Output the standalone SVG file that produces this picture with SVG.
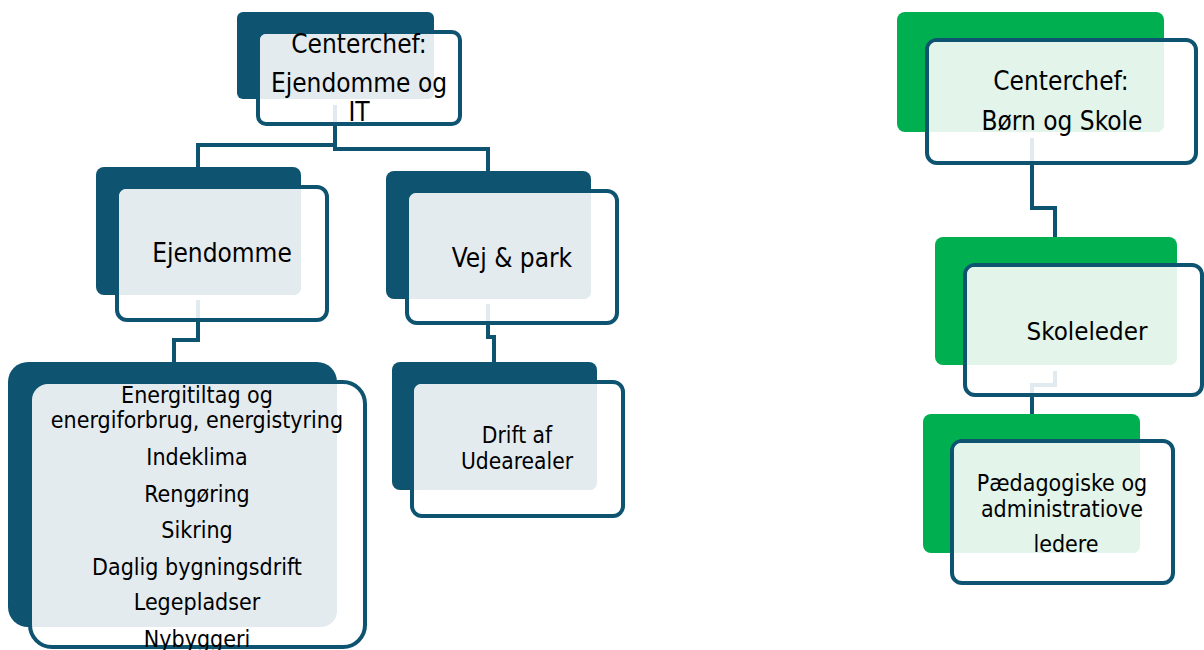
<svg xmlns="http://www.w3.org/2000/svg" width="1204" height="650" viewBox="0 0 1204 650">
<style>
.bg{fill:#fff}
.dk{fill:#0e5470}
.gr{fill:#00b050}
.ol{fill:#fff;fill-opacity:0.88;stroke:#0e5470;stroke-width:4}
.lb{fill:#e4ebef}
.lg{fill:#e3f4ea}
.cn{fill:none;stroke:#0e5470;stroke-width:4}
text{font-family:"DejaVu Sans Condensed","DejaVu Sans",sans-serif;font-stretch:condensed;fill:#000;text-anchor:middle}
.f26{font-size:26px}
.f23{font-size:23px}
.f22{font-size:22.6px}
</style>
<rect class="bg" x="0" y="0" width="1204" height="650"/>
<g id="connectors">
<path class="cn" d="M335,105 V149 H488 V171"/>
<path class="cn" d="M335,105 V145 H198 V167"/>
<path class="cn" d="M198,300 V340 H174 V362"/>
<path class="cn" d="M488,304 V337 H494 V362"/>
<path class="cn" d="M1032,138 V208 H1055 V237"/>
<path class="cn" d="M1055,371 V385 H1032 V414"/>
</g>
<g id="n-centerchef-it">
<rect class="dk" x="237" y="12" width="197" height="87" rx="6"/>
<rect class="ol" x="258" y="32" width="202" height="92" rx="8"/>
<rect class="lb" x="260" y="34" width="174" height="65" rx="6"/>
<text class="f26" x="359" y="53">Centerchef:</text>
<text class="f26" x="359" y="92">Ejendomme og</text>
<text class="f26" x="359" y="121">IT</text>
</g>
<g id="n-ejendomme">
<rect class="dk" x="96" y="167" width="205" height="128" rx="8"/>
<rect class="ol" x="117" y="187" width="210" height="133" rx="10"/>
<rect class="lb" x="119" y="189" width="182" height="106" rx="7"/>
<text class="f26" x="222" y="262">Ejendomme</text>
</g>
<g id="n-vejpark">
<rect class="dk" x="386" y="171" width="205" height="128" rx="8"/>
<rect class="ol" x="407" y="191" width="210" height="132" rx="10"/>
<rect class="lb" x="409" y="193" width="182" height="106" rx="7"/>
<text class="f26" x="512" y="267">Vej &amp; park</text>
</g>
<g id="n-energi">
<rect class="dk" x="8" y="362" width="329" height="265" rx="20"/>
<rect class="ol" x="30" y="382" width="335" height="265" rx="22"/>
<rect class="lb" x="32" y="384" width="305" height="243" rx="16"/>
<text class="f23" x="197" y="403">Energitiltag og</text>
<text class="f23" x="197" y="428">energiforbrug, energistyring</text>
<text class="f23" x="197" y="465">Indeklima</text>
<text class="f23" x="197" y="502">Rengøring</text>
<text class="f23" x="197" y="538">Sikring</text>
<text class="f23" x="197" y="575">Daglig bygningsdrift</text>
<text class="f23" x="197" y="610">Legepladser</text>
<text class="f23" x="197" y="647">Nybyggeri</text>
</g>
<g id="n-drift">
<rect class="dk" x="392" y="362" width="205" height="128" rx="8"/>
<rect class="ol" x="412" y="382" width="211" height="134" rx="10"/>
<rect class="lb" x="414" y="384" width="183" height="106" rx="7"/>
<text class="f22" x="517" y="443">Drift af</text>
<text class="f22" x="517" y="469">Udearealer</text>
</g>
<g id="n-centerchef-bs">
<rect class="gr" x="897" y="12" width="267" height="120" rx="8"/>
<rect class="ol" x="927" y="40" width="269" height="123" rx="10"/>
<rect class="lg" x="929" y="42" width="235" height="90" rx="7"/>
<text class="f26" x="1061" y="90">Centerchef:</text>
<text class="f26" x="1062" y="130">Børn og Skole</text>
</g>
<g id="n-skoleleder">
<rect class="gr" x="935" y="237" width="242" height="128" rx="8"/>
<rect class="ol" x="965" y="265" width="237" height="130" rx="10"/>
<rect class="lg" x="967" y="267" width="210" height="98" rx="7"/>
<text x="1087" y="340" style="font-size:24px" textLength="121" lengthAdjust="spacingAndGlyphs">Skoleleder</text>
</g>
<g id="n-paedagogiske">
<rect class="gr" x="923" y="414" width="217" height="139" rx="8"/>
<rect class="ol" x="952" y="441" width="221" height="142" rx="10"/>
<rect class="lg" x="954" y="443" width="186" height="110" rx="7"/>
<text class="f23" x="1062" y="491">Pædagogiske og</text>
<text class="f23" x="1062" y="517">administratiove</text>
<text class="f23" x="1066" y="552">ledere</text>
</g>
</svg>
